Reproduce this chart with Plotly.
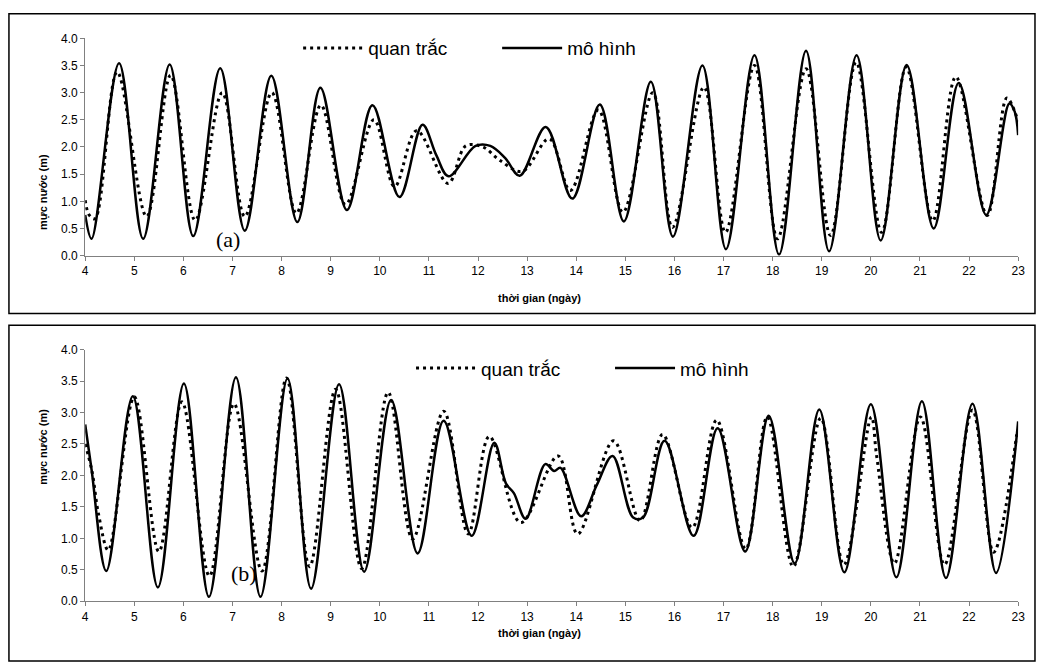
import plotly.graph_objects as go

W, H = 1040, 665

# ---------------- Panel (a) ----------------
a_model_t = [4.00, 4.13, 4.69, 5.18, 5.72, 6.20, 6.75, 7.25, 7.79, 8.32, 8.79, 9.33, 9.85, 10.40,
             10.87, 11.15, 11.40, 11.95, 12.25, 12.55, 12.85, 13.38, 13.92, 14.48, 14.97, 15.52,
             15.97, 16.57, 17.05, 17.63, 18.13, 18.68, 19.15, 19.71, 20.20, 20.73, 21.28, 21.79,
             22.35, 22.82, 22.93, 23.00]
a_model_v = [0.75, 0.31, 3.54, 0.31, 3.52, 0.36, 3.45, 0.46, 3.31, 0.62, 3.09, 0.84, 2.77, 1.08,
             2.41, 1.85, 1.46, 2.02, 2.02, 1.80, 1.47, 2.37, 1.05, 2.78, 0.63, 3.20,
             0.35, 3.50, 0.12, 3.69, 0.02, 3.77, 0.08, 3.69, 0.28, 3.51, 0.50, 3.18,
             0.75, 2.80, 2.65, 2.22]

a_obs_t = [4.00, 4.08, 4.20, 4.65, 5.25, 5.74, 6.24, 6.79, 7.25, 7.80, 8.30, 8.80, 9.30, 9.88,
           10.30, 10.75, 11.39, 11.75, 12.10, 12.45, 12.90, 13.45, 13.88, 14.45, 14.95, 15.56,
           15.96, 16.60, 17.04, 17.63, 18.10, 18.68, 19.18, 19.70, 20.22, 20.72, 21.26, 21.73,
           22.37, 22.77, 23.00]
a_obs_v = [1.02, 0.75, 0.68, 3.38, 0.72, 3.32, 0.65, 3.00, 0.72, 3.00, 0.78, 2.77, 0.94, 2.50,
           1.27, 2.30, 1.33, 2.02, 2.00, 1.75, 1.55, 2.15, 1.20, 2.68, 0.80, 3.00,
           0.52, 3.10, 0.43, 3.50, 0.31, 3.44, 0.37, 3.56, 0.43, 3.47, 0.64, 3.29,
           0.74, 2.90, 2.47]

# ---------------- Panel (b) ----------------
b_model_t = [4.00, 4.13, 4.43, 4.97, 5.48, 6.01, 6.52, 7.07, 7.57, 8.12, 8.60, 9.17, 9.68, 10.23,
             10.77, 11.30, 11.87, 12.33, 12.57, 12.73, 12.97, 13.37, 13.55, 13.68, 14.10, 14.42,
             14.74, 15.16, 15.36, 15.80, 16.39, 16.88, 17.44, 17.92, 18.45, 18.95, 19.46, 20.00,
             20.52, 21.04, 21.53, 22.07, 22.55, 23.00]
b_model_v = [2.81, 2.09, 0.48, 3.26, 0.22, 3.46, 0.07, 3.56, 0.07, 3.54, 0.20, 3.45, 0.47, 3.20,
             0.76, 2.87, 1.04, 2.52, 1.87, 1.72, 1.31, 2.18, 2.07, 2.12, 1.35, 1.85,
             2.31, 1.33, 1.33, 2.55, 1.04, 2.75, 0.79, 2.95, 0.60, 3.05, 0.46, 3.13,
             0.38, 3.18, 0.37, 3.14, 0.45, 2.86]

b_obs_t = [4.00, 4.14, 4.27, 4.47, 5.00, 5.50, 5.97, 6.53, 7.03, 7.60, 8.10, 8.57, 9.10, 9.63,
           10.17, 10.67, 11.30, 11.80, 12.23, 12.87, 13.63, 14.03, 14.76, 15.30, 15.76, 16.36,
           16.86, 17.45, 17.89, 18.42, 18.98, 19.45, 20.01, 20.12, 20.48, 21.01, 21.50, 22.07,
           22.50, 22.97]
b_obs_v = [2.50, 2.06, 1.39, 0.81, 3.25, 0.79, 3.17, 0.40, 3.14, 0.48, 3.55, 0.55, 3.37, 0.52,
           3.32, 0.99, 3.02, 1.07, 2.62, 1.25, 2.31, 1.07, 2.55, 1.28, 2.65, 1.17,
           2.88, 0.83, 2.93, 0.55, 2.91, 0.58, 2.93, 2.30, 0.60, 2.93, 0.58, 3.04,
           0.78, 2.65]

x_ticks = list(range(4, 24))
y_ticks = [0.0, 0.5, 1.0, 1.5, 2.0, 2.5, 3.0, 3.5, 4.0]
obs_name = "quan trắc"
model_name = "mô hình"
x_title = "thời gian (ngày)"
y_title = "mực nước (m)"

FONT = "Liberation Sans, Arial, sans-serif"

def px_x(p):
    return p / W

def px_y(p):
    return 1 - p / H

obs_line = dict(color="black", width=3, dash="3px,4px", shape="spline")
mod_line = dict(color="black", width=2.5, shape="spline")

fig = go.Figure()
fig.add_trace(go.Scatter(x=a_obs_t, y=a_obs_v, mode="lines", name=obs_name, line=obs_line,
                         xaxis="x", yaxis="y", legend="legend"))
fig.add_trace(go.Scatter(x=a_model_t, y=a_model_v, mode="lines", name=model_name, line=mod_line,
                         xaxis="x", yaxis="y", legend="legend"))
fig.add_trace(go.Scatter(x=b_obs_t, y=b_obs_v, mode="lines", name=obs_name, line=obs_line,
                         xaxis="x2", yaxis="y2", legend="legend2"))
fig.add_trace(go.Scatter(x=b_model_t, y=b_model_v, mode="lines", name=model_name, line=mod_line,
                         xaxis="x2", yaxis="y2", legend="legend2"))

x_dom = [px_x(83), px_x(1025)]
axis_common = dict(showline=True, linecolor="#808080", linewidth=1, ticks="outside", ticklen=4,
                   tickcolor="#808080", showgrid=False, zeroline=False,
                   tickfont=dict(family=FONT, size=12, color="black"))

xa = dict(axis_common, range=[4, 23], tickvals=x_ticks, domain=x_dom)
ya = dict(axis_common, range=[0, 4], tickvals=y_ticks, tickformat=".1f")

legend_common = dict(orientation="h", bgcolor="rgba(0,0,0,0)", borderwidth=0,
                     font=dict(family=FONT, size=19, color="black"),
                     itemwidth=60, xanchor="left", yanchor="middle",
                     entrywidth=124, entrywidthmode="pixels")

fig.update_layout(
    width=W, height=H,
    margin=dict(l=0, r=0, t=0, b=0),
    paper_bgcolor="white", plot_bgcolor="white",
    xaxis=dict(xa, anchor="y"),
    yaxis=dict(ya, domain=[px_y(254), px_y(32)], anchor="x"),
    xaxis2=dict(xa, anchor="y2"),
    yaxis2=dict(ya, domain=[px_y(607), px_y(350)], anchor="x2"),
    legend=dict(legend_common, x=px_x(298), y=px_y(42)),
    legend2=dict(legend_common, x=px_x(412), y=px_y(369)),
    showlegend=True,
)

# frames around each panel
fig.add_shape(type="rect", xref="paper", yref="paper", x0=px_x(6), x1=px_x(1042),
              y0=px_y(313), y1=px_y(7), line=dict(color="black", width=1.5))
fig.add_shape(type="rect", xref="paper", yref="paper", x0=px_x(6), x1=px_x(1042),
              y0=px_y(668), y1=px_y(325), line=dict(color="black", width=1.5))

ann = []
for yc, xt_y, lab, lx, ly in [(148, 297, "(a)", 213, 238), (490, 648, "(b)", 228, 594)]:
    ann.append(dict(text=y_title, x=px_x(33), y=px_y(yc), xref="paper", yref="paper",
                    textangle=-90, showarrow=False,
                    font=dict(family=FONT, size=11, color="black", weight="bold")))
    ann.append(dict(text=x_title, x=px_x(542), y=px_y(xt_y), xref="paper", yref="paper",
                    showarrow=False,
                    font=dict(family=FONT, size=11, color="black", weight="bold")))
    ann.append(dict(text=lab, x=px_x(lx), y=px_y(ly), xref="paper", yref="paper",
                    showarrow=False,
                    font=dict(family="Liberation Serif, Times New Roman, serif", size=22,
                              color="black")))
fig.update_layout(annotations=ann)

fig.write_html("out.html", config={"displayModeBar": False},
               post_script="document.body.style.margin='0';document.body.style.overflow='hidden';")
